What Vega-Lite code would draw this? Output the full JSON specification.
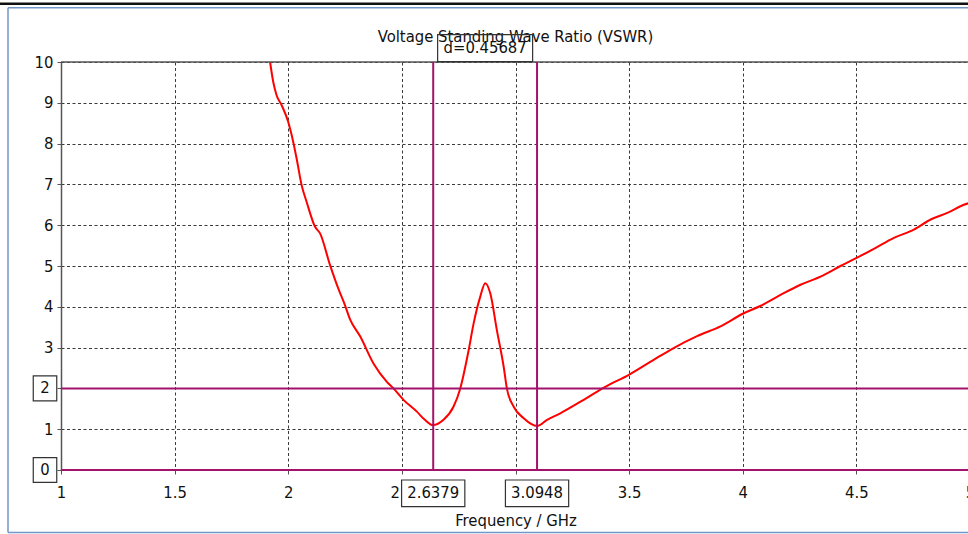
{
  "$schema": "https://vega.github.io/schema/vega-lite/v6.json",
  "width": 909,
  "height": 408,
  "autosize": {"type": "none"},
  "padding": {"left": 61, "top": 62, "right": 0, "bottom": 64},
  "background": "white",
  "config": {
    "view": {"stroke": null},
    "font": "DejaVu Sans Condensed",
    "text": {"font": "DejaVu Sans Condensed"}
  },
  "datasets": {
    "curve": [
      {"f": 1.920, "v": 10.0}, {"f": 1.934, "v": 9.51}, {"f": 1.949, "v": 9.18}, {"f": 1.971, "v": 8.94},
      {"f": 2.000, "v": 8.53}, {"f": 2.015, "v": 8.21}, {"f": 2.037, "v": 7.63}, {"f": 2.059, "v": 6.98},
      {"f": 2.081, "v": 6.57}, {"f": 2.118, "v": 5.96}, {"f": 2.140, "v": 5.80}, {"f": 2.184, "v": 5.02},
      {"f": 2.220, "v": 4.45}, {"f": 2.247, "v": 4.08}, {"f": 2.273, "v": 3.68}, {"f": 2.317, "v": 3.27},
      {"f": 2.375, "v": 2.61}, {"f": 2.434, "v": 2.16}, {"f": 2.463, "v": 2.00}, {"f": 2.507, "v": 1.72},
      {"f": 2.566, "v": 1.43}, {"f": 2.601, "v": 1.23}, {"f": 2.637, "v": 1.10}, {"f": 2.683, "v": 1.23},
      {"f": 2.727, "v": 1.55}, {"f": 2.757, "v": 2.00}, {"f": 2.794, "v": 2.94}, {"f": 2.816, "v": 3.60},
      {"f": 2.845, "v": 4.25}, {"f": 2.867, "v": 4.58}, {"f": 2.889, "v": 4.33}, {"f": 2.918, "v": 3.43},
      {"f": 2.948, "v": 2.53}, {"f": 2.962, "v": 2.00}, {"f": 2.992, "v": 1.55}, {"f": 3.036, "v": 1.27},
      {"f": 3.0948, "v": 1.08}, {"f": 3.139, "v": 1.23}, {"f": 3.197, "v": 1.39}, {"f": 3.300, "v": 1.72},
      {"f": 3.395, "v": 2.04}, {"f": 3.501, "v": 2.34}, {"f": 3.608, "v": 2.70}, {"f": 3.696, "v": 2.99},
      {"f": 3.799, "v": 3.28}, {"f": 3.902, "v": 3.52}, {"f": 4.000, "v": 3.83}, {"f": 4.077, "v": 4.02},
      {"f": 4.166, "v": 4.29}, {"f": 4.254, "v": 4.54}, {"f": 4.342, "v": 4.74}, {"f": 4.430, "v": 5.00},
      {"f": 4.501, "v": 5.20}, {"f": 4.577, "v": 5.42}, {"f": 4.665, "v": 5.69}, {"f": 4.753, "v": 5.89},
      {"f": 4.827, "v": 6.14}, {"f": 4.900, "v": 6.30}, {"f": 4.973, "v": 6.50}, {"f": 5.000, "v": 6.55}
    ],
    "markers": [{"f": 2.6379}, {"f": 3.0948}],
    "levels": [{"v": 0}, {"v": 2}],
    "border": [{"v": 10}],
    "frame": [
      {"f": 0.7668, "f2": 0.7668, "v": 11.33, "v2": -1.53},
      {"f": 0.7668, "f2": 6, "v": 11.33, "v2": 11.33},
      {"f": 0.7668, "f2": 6, "v": -1.53, "v2": -1.53}
    ],
    "frameTop": [{"f": 0.7, "f2": 6, "v": 11.43, "v2": 11.43}],
    "heading": [{"label": "Voltage Standing Wave Ratio (VSWR)", "f": 3.0, "v": 10.49}],
    "boxes": [
      {"kind": "m", "label": "2.6379", "f": 2.6379, "v": -0.571},
      {"kind": "m", "label": "3.0948", "f": 3.0948, "v": -0.571},
      {"kind": "y", "label": "2", "f": 0.9296, "v": 2},
      {"kind": "y", "label": "0", "f": 0.9296, "v": 0},
      {"kind": "d", "label": "d=0.45687", "f": 2.86635, "v": 10.34}
    ]
  },
  "layer": [
    {
      "data": {"name": "frame"},
      "mark": {"type": "rule", "color": "#7196c9", "strokeWidth": 1.5},
      "encoding": {
        "x": {"field": "f", "type": "quantitative", "scale": {"domain": [1, 5], "nice": false, "zero": false}},
        "x2": {"field": "f2"},
        "y": {"field": "v", "type": "quantitative", "scale": {"domain": [0, 10], "nice": false, "zero": false}},
        "y2": {"field": "v2"}
      }
    },
    {
      "data": {"name": "frameTop"},
      "mark": {"type": "rule", "color": "#111111", "strokeWidth": 2.5},
      "encoding": {
        "x": {"field": "f", "type": "quantitative", "scale": {"domain": [1, 5], "nice": false, "zero": false}},
        "x2": {"field": "f2"},
        "y": {"field": "v", "type": "quantitative", "scale": {"domain": [0, 10], "nice": false, "zero": false}},
        "y2": {"field": "v2"}
      }
    },
    {
      "data": {"name": "heading"},
      "mark": {"type": "text", "fontSize": 16.5, "color": "#111111", "align": "center", "baseline": "alphabetic", "font": "DejaVu Sans Condensed"},
      "encoding": {
        "x": {"field": "f", "type": "quantitative", "scale": {"domain": [1, 5], "nice": false, "zero": false}},
        "y": {"field": "v", "type": "quantitative", "scale": {"domain": [0, 10], "nice": false, "zero": false}},
        "text": {"field": "label", "type": "nominal"}
      }
    },
    {
      "data": {"name": "curve"},
      "mark": {"type": "line", "color": "#ff0000", "strokeWidth": 2, "interpolate": "monotone"},
      "encoding": {
        "x": {
          "field": "f", "type": "quantitative",
          "scale": {"domain": [1, 5], "nice": false, "zero": false},
          "axis": {
            "title": "Frequency / GHz",
            "values": [1, 1.5, 2, 2.5, 3, 3.5, 4, 4.5, 5],
            "format": "~g",
            "labelFlush": false,
            "labelOverlap": false,
            "labelBound": false,
            "labelFontSize": 16.5,
            "labelColor": "#111111",
            "labelPadding": 10,
            "tickSize": 4,
            "tickColor": "#555555",
            "domainColor": "#555555",
            "grid": true,
            "gridDash": [3, 2.5],
            "gridColor": "#3a3a3a",
            "gridWidth": 1,
            "titleFontSize": 16.5,
            "titleFontWeight": "normal",
            "titleColor": "#111111",
            "titlePadding": 12
          }
        },
        "y": {
          "field": "v", "type": "quantitative",
          "scale": {"domain": [0, 10], "nice": false, "zero": false},
          "axis": {
            "title": null,
            "values": [0, 1, 2, 3, 4, 5, 6, 7, 8, 9, 10],
            "labelFontSize": 16.5,
            "labelColor": "#111111",
            "labelPadding": 4,
            "labelFlush": false,
            "labelOverlap": false,
            "tickSize": 4,
            "tickColor": "#555555",
            "domainColor": "#555555",
            "domainWidth": 1.5,
            "grid": true,
            "gridDash": [3, 2.5],
            "gridColor": "#3a3a3a",
            "gridWidth": 1
          }
        }
      }
    },
    {
      "data": {"name": "border"},
      "mark": {"type": "rule", "color": "#555555", "strokeWidth": 1.5},
      "encoding": {
        "y": {"field": "v", "type": "quantitative", "scale": {"domain": [0, 10], "nice": false, "zero": false}}
      }
    },
    {
      "data": {"name": "levels"},
      "mark": {"type": "rule", "color": "#a3136c", "strokeWidth": 2},
      "encoding": {
        "y": {"field": "v", "type": "quantitative", "scale": {"domain": [0, 10], "nice": false, "zero": false}}
      }
    },
    {
      "data": {"name": "markers"},
      "mark": {"type": "rule", "color": "#a3136c", "strokeWidth": 2},
      "encoding": {
        "x": {"field": "f", "type": "quantitative", "scale": {"domain": [1, 5], "nice": false, "zero": false}}
      }
    },
    {
      "data": {"name": "boxes"},
      "transform": [{"filter": "datum.kind === 'm'"}],
      "mark": {"type": "point", "shape": "M-1,-0.42H1V0.42H-1Z", "size": 4000, "filled": true, "fill": "white", "fillOpacity": 1, "stroke": "#333333", "strokeWidth": 1.2, "opacity": 1},
      "encoding": {
        "x": {"field": "f", "type": "quantitative", "scale": {"domain": [1, 5], "nice": false, "zero": false}},
        "y": {"field": "v", "type": "quantitative", "scale": {"domain": [0, 10], "nice": false, "zero": false}}
      }
    },
    {
      "data": {"name": "boxes"},
      "transform": [{"filter": "datum.kind === 'y'"}],
      "mark": {"type": "point", "shape": "M-1,-1.06H1V1.06H-1Z", "size": 552, "filled": true, "fill": "white", "fillOpacity": 1, "stroke": "#333333", "strokeWidth": 1.2, "opacity": 1},
      "encoding": {
        "x": {"field": "f", "type": "quantitative", "scale": {"domain": [1, 5], "nice": false, "zero": false}},
        "y": {"field": "v", "type": "quantitative", "scale": {"domain": [0, 10], "nice": false, "zero": false}}
      }
    },
    {
      "data": {"name": "boxes"},
      "transform": [{"filter": "datum.kind === 'd'"}],
      "mark": {"type": "point", "shape": "M-1,-0.285H1V0.285H-1Z", "size": 9025, "filled": false, "fill": null, "stroke": "#333333", "strokeWidth": 1.2, "opacity": 1},
      "encoding": {
        "x": {"field": "f", "type": "quantitative", "scale": {"domain": [1, 5], "nice": false, "zero": false}},
        "y": {"field": "v", "type": "quantitative", "scale": {"domain": [0, 10], "nice": false, "zero": false}}
      }
    },
    {
      "data": {"name": "boxes"},
      "mark": {"type": "text", "fontSize": 16.5, "color": "#111111", "align": "center", "baseline": "middle", "font": "DejaVu Sans Condensed"},
      "encoding": {
        "x": {"field": "f", "type": "quantitative", "scale": {"domain": [1, 5], "nice": false, "zero": false}},
        "y": {"field": "v", "type": "quantitative", "scale": {"domain": [0, 10], "nice": false, "zero": false}},
        "text": {"field": "label", "type": "nominal"}
      }
    }
  ]
}
